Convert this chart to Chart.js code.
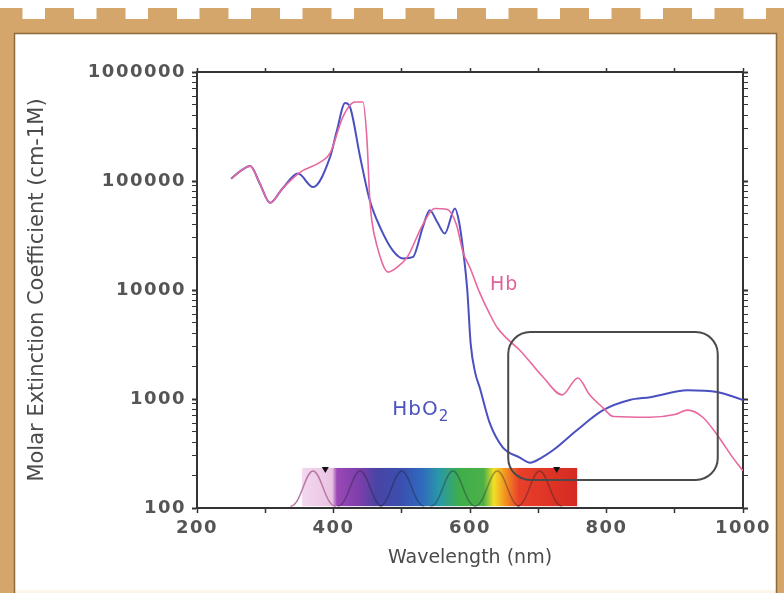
<!DOCTYPE html>
<html>
<head>
<meta charset="utf-8">
<script src="https://cdn.jsdelivr.net/npm/chart.js@4.4.1/dist/chart.umd.min.js"></script>
<style>
  html, body { margin: 0; padding: 0; background: #fff; }
  #wrap { position: relative; width: 784px; height: 593px; }
</style>
</head>
<body>
<div id="wrap"><canvas id="chart-spectra" width="784" height="593"></canvas></div>
<script>
// deoxy-haemoglobin (Hb)
const hbWavelengths = [250, 265, 278, 292, 307, 325, 351, 380, 395, 414, 431, 443, 449, 453, 456, 464, 480, 495, 508, 531, 548, 566, 580, 590, 600, 614, 629, 640, 654, 673, 707, 735, 758, 775, 795, 810, 864, 900, 919, 941, 962, 985, 1000];
const hbValues = [105000, 125000, 137000, 95000, 63000, 85000, 120000, 148000, 180000, 390000, 530000, 530000, 240000, 71000, 44000, 25000, 14600, 16500, 20000, 40000, 56000, 55000, 40000, 22000, 16000, 9500, 6000, 4500, 3600, 2800, 1590, 1090, 1560, 1100, 830, 690, 680, 720, 790, 680, 470, 290, 220];

// oxy-haemoglobin (HbO2)
const hbo2Wavelengths = [250, 265, 278, 292, 307, 325, 348, 370, 395, 405, 417, 424, 439, 453, 468, 487, 502, 516, 531, 541, 552, 563, 578, 584, 590, 596, 601, 608, 614, 629, 648, 673, 688, 705, 722, 757, 795, 834, 864, 919, 962, 1000];
const hbo2Values = [105000, 125000, 137000, 95000, 63000, 85000, 117000, 88000, 166000, 290000, 520000, 480000, 166000, 67000, 38000, 23000, 19500, 20000, 38000, 54000, 42000, 33000, 56000, 42000, 23000, 10000, 3200, 1700, 1290, 600, 360, 290, 260, 290, 340, 520, 790, 980, 1040, 1200, 1160, 980];

const xTickLabels = [200, 400, 600, 800, 1000];
const yTickLabels = [100, 1000, 10000, 100000, 1000000];

// colour bar under the curves: wavelength stops and colours
const spectrumStops = [354, 398, 405, 440, 462, 500, 530, 555, 585, 620, 635, 652, 672, 757];
const spectrumColors = ['#f3d8ee', '#e9c3e2', '#9a48b6', '#7a3eaa', '#4b44a4', '#3a4fb0', '#2f6cbc', '#2a98a8', '#3fae4a', '#4cb048', '#f2e025', '#f39022', '#e8402a', '#d42a22'];
const wavePeaks = [370, 439, 500, 575, 640, 702];
const waveMarkers = [388, 727];

const TAN = '#d5a66b';
const AXIS = '#333';

// tick labels in the picture are drawn wide, so space the glyphs a bit
class SpacedLinear extends Chart.LinearScale {
    drawLabels(area) {
        this.ctx.save();
        this.ctx.letterSpacing = '1.5px';
        super.drawLabels(area);
        this.ctx.restore();
    }
}
SpacedLinear.id = 'spacedLinear';

class SpacedLog extends Chart.LogarithmicScale {
    drawLabels(area) {
        this.ctx.save();
        this.ctx.letterSpacing = '1.5px';
        super.drawLabels(area);
        this.ctx.restore();
    }
}
SpacedLog.id = 'spacedLog';

Chart.register(SpacedLinear, SpacedLog);

const logTicks = (scale) => {
    let ticks = [];
    for (let p = 2; p < 6; p++) {
        for (let m = 1; m < 10; m++) {
            ticks.push({ value: m * Math.pow(10, p) });
        }
    }
    ticks.push({ value: 1000000 });
    scale.ticks = ticks;
};

const framePlugin = {
    id: 'frame',
    beforeDraw(chart) {
        const ctx = chart.ctx;
        const W = chart.width, H = chart.height;
        ctx.save();
        ctx.fillStyle = '#fff';
        ctx.fillRect(0, 0, W, H);
        ctx.fillStyle = TAN;
        ctx.fillRect(0, 19, W, 14);
        for (let x = -6.5; x < W; x += 51.5) {
            ctx.fillRect(x, 8, 29, 12);
        }
        ctx.fillRect(0, 19, 14, H - 19);
        ctx.fillRect(777, 19, W - 777, H - 19);
        ctx.fillStyle = '#fcf5ea';
        ctx.fillRect(15, H - 3, 761, 3);
        ctx.strokeStyle = '#8c6a3c';
        ctx.lineWidth = 1.5;
        ctx.beginPath();
        ctx.moveTo(14.5, H);
        ctx.lineTo(14.5, 33.5);
        ctx.lineTo(776.5, 33.5);
        ctx.lineTo(776.5, H);
        ctx.stroke();
        ctx.restore();
    }
};

const spectrumPlugin = {
    id: 'spectrum',
    beforeDatasetsDraw(chart) {
        const { ctx, scales: { x, y } } = chart;
        const x0 = x.getPixelForValue(spectrumStops[0]);
        const x1 = x.getPixelForValue(spectrumStops[spectrumStops.length - 1]);
        const yt = y.getPixelForValue(233);
        const yb = y.getPixelForValue(104);
        const grad = ctx.createLinearGradient(x0, 0, x1, 0);
        spectrumStops.forEach((nm, i) => {
            grad.addColorStop((nm - spectrumStops[0]) / (spectrumStops[spectrumStops.length - 1] - spectrumStops[0]), spectrumColors[i]);
        });
        ctx.save();
        ctx.fillStyle = grad;
        ctx.fillRect(x0, yt, x1 - x0, yb - yt);

        // the little sine humps over the bar
        ctx.lineWidth = 1.5;
        wavePeaks.forEach((p, i) => {
            const xa = x.getPixelForValue(p - 33);
            const xp = x.getPixelForValue(p);
            const xb = x.getPixelForValue(p + 33);
            ctx.strokeStyle = i === 0 ? '#b87aa8' : 'rgba(25,25,45,0.35)';
            ctx.beginPath();
            ctx.moveTo(xa, yb);
            ctx.bezierCurveTo(xa + (xp - xa) * 0.45, yb, xp - (xp - xa) * 0.35, yt + 3, xp, yt + 3);
            ctx.bezierCurveTo(xp + (xb - xp) * 0.35, yt + 3, xb - (xb - xp) * 0.45, yb, xb, yb);
            ctx.stroke();
        });

        ctx.fillStyle = '#111';
        waveMarkers.forEach((nm) => {
            const px = x.getPixelForValue(nm);
            ctx.beginPath();
            ctx.moveTo(px - 3.5, yt - 1);
            ctx.lineTo(px + 3.5, yt - 1);
            ctx.lineTo(px, yt + 5);
            ctx.closePath();
            ctx.fill();
        });
        ctx.restore();
    }
};

const overlayPlugin = {
    id: 'overlay',
    afterDatasetsDraw(chart) {
        const { ctx, scales: { x, y } } = chart;
        // rounded box round the near-infrared window
        const left = x.getPixelForValue(656);
        const right = x.getPixelForValue(963);
        const top = y.getPixelForValue(4120);
        const bottom = y.getPixelForValue(181);
        const r = 22;
        ctx.save();
        ctx.strokeStyle = '#4a4a4a';
        ctx.lineWidth = 2;
        ctx.beginPath();
        ctx.moveTo(left + r, top);
        ctx.arcTo(right, top, right, bottom, r);
        ctx.arcTo(right, bottom, left, bottom, r);
        ctx.arcTo(left, bottom, left, top, r);
        ctx.arcTo(left, top, right, top, r);
        ctx.closePath();
        ctx.stroke();

        // curve names
        ctx.letterSpacing = '1px';
        ctx.textBaseline = 'middle';
        ctx.textAlign = 'center';
        ctx.font = '19px "DejaVu Sans"';
        ctx.fillStyle = '#e0629c';
        ctx.fillText('Hb', x.getPixelForValue(650), y.getPixelForValue(11100));

        ctx.fillStyle = '#4c52c0';
        ctx.font = '20px "DejaVu Sans"';
        ctx.textAlign = 'left';
        const hx = x.getPixelForValue(486);
        const hy = y.getPixelForValue(800);
        ctx.fillText('HbO', hx, hy);
        const w = ctx.measureText('HbO').width;
        ctx.font = '15px "DejaVu Sans"';
        ctx.fillText('2', hx + w, hy + 8);
        ctx.restore();
    }
};

const toPoints = (xs, ys) => xs.map((w, i) => ({ x: w, y: ys[i] }));

const line = {
    type: 'line',
    fill: false,
    pointRadius: 0,
    cubicInterpolationMode: 'monotone'
};

const tickFont = { family: '"DejaVu Sans"', size: 18, weight: 'bold' };

const spectraChart = new Chart(document.getElementById('chart-spectra'), {
    type: 'line',
    data: {
        datasets: [{
            ...line,
            label: 'Hb',
            data: toPoints(hbWavelengths, hbValues),
            borderColor: '#e8679f',
            borderWidth: 1.6
        }, {
            ...line,
            label: 'HbO2',
            data: toPoints(hbo2Wavelengths, hbo2Values),
            borderColor: '#4a50c0',
            borderWidth: 2
        }]
    },
    options: {
        responsive: false,
        devicePixelRatio: 1,
        animation: false,
        layout: { padding: 0 },
        plugins: {
            legend: { display: false },
            tooltip: { enabled: false }
        },
        scales: {
            x: {
                type: 'spacedLinear',
                position: 'bottom',
                min: 200,
                max: 1000,
                afterFit: (s) => { s.height = 85; },
                ticks: {
                    stepSize: 100,
                    autoSkip: false,
                    maxRotation: 0,
                    padding: 5,
                    color: '#555',
                    font: tickFont,
                    callback: (v) => xTickLabels.includes(v) ? String(v) : ''
                },
                grid: {
                    drawOnChartArea: false,
                    tickLength: 5,
                    tickColor: AXIS,
                    tickWidth: 1.5
                },
                border: { color: AXIS, width: 2 },
                title: {
                    display: true,
                    text: 'Wavelength (nm)',
                    color: '#4a4a4a',
                    font: { family: '"DejaVu Sans"', size: 19 },
                    padding: { top: 0, bottom: 24 }
                }
            },
            x2: {
                type: 'linear',
                position: 'top',
                min: 200,
                max: 1000,
                afterFit: (s) => { s.height = 72; },
                ticks: { stepSize: 100, display: false },
                grid: {
                    drawOnChartArea: false,
                    tickLength: 4,
                    tickColor: AXIS,
                    tickWidth: 1.5
                },
                border: { color: AXIS, width: 2 }
            },
            y: {
                type: 'spacedLog',
                position: 'left',
                min: 100,
                max: 1000000,
                afterFit: (s) => { s.width = 197; },
                afterBuildTicks: logTicks,
                ticks: {
                    autoSkip: false,
                    padding: 6,
                    color: '#555',
                    font: tickFont,
                    callback: (v) => yTickLabels.includes(v) ? String(v) : ''
                },
                grid: {
                    drawOnChartArea: false,
                    tickLength: 5,
                    tickColor: AXIS,
                    tickWidth: (c) => yTickLabels.includes(c.tick.value) ? 2 : 1
                },
                border: { color: AXIS, width: 2 },
                title: {
                    display: true,
                    text: 'Molar Extinction Coefficient (cm-1M)',
                    color: '#4a4a4a',
                    font: { family: '"DejaVu Sans"', size: 21 },
                    padding: { top: 25, bottom: 0 }
                }
            },
            y2: {
                type: 'logarithmic',
                position: 'right',
                min: 100,
                max: 1000000,
                afterFit: (s) => { s.width = 41; },
                afterBuildTicks: logTicks,
                ticks: { display: false },
                grid: {
                    drawOnChartArea: false,
                    tickLength: 5,
                    tickColor: AXIS,
                    tickWidth: (c) => yTickLabels.includes(c.tick.value) ? 2 : 1
                },
                border: { color: AXIS, width: 2 }
            }
        }
    },
    plugins: [framePlugin, spectrumPlugin, overlayPlugin]
});
</script>
</body>
</html>
